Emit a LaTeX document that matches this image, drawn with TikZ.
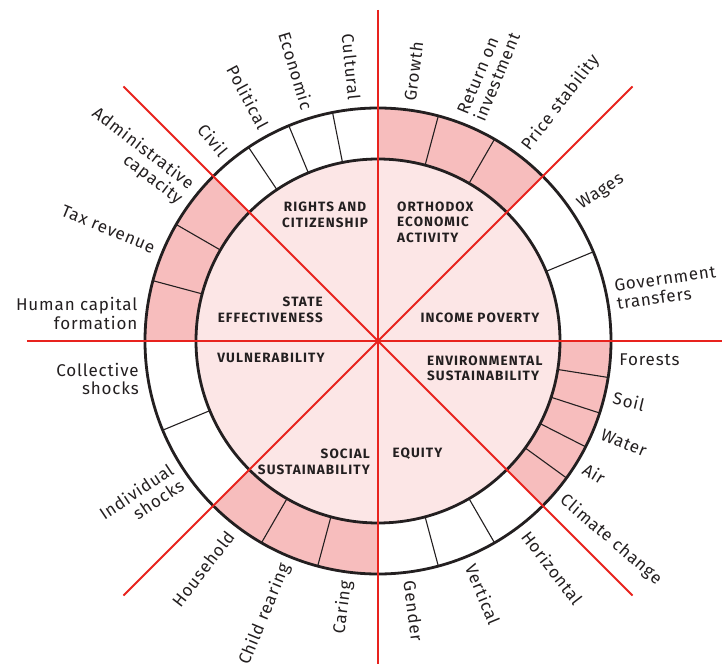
\documentclass[tikz,border=0pt]{standalone}
\usepackage{fontspec}
\setmainfont{Fira Sans}
\newfontfamily\bandfont[LetterSpace=5]{Fira Sans}
\newfontfamily\zonefont[LetterSpace=8]{Fira Sans}
\usepackage{tikz}
\usetikzlibrary{calc}
\definecolor{myred}{RGB}{232, 35, 30}
\definecolor{mypink}{RGB}{247, 189, 189}
\definecolor{mylightpink}{RGB}{252, 230, 230}
\definecolor{mydark}{RGB}{35, 31, 32}
\newcommand{\rin}{182}
\newcommand{\rout}{233}
\newcommand{\rtext}{242}
\tikzset{
  bandlabel/.style = {font=\bandfont\fontsize{17}{18.5}\selectfont, text=mydark, inner sep=0pt},
  zonelabel/.style = {font=\zonefont\bfseries\fontsize{13.5}{15.5}\selectfont, text=mydark, inner sep=0pt},
  divider/.style = {line width=1.1pt, mydark},
  ring/.style = {line width=2.8pt, mydark},
  redline/.style = {line width=1.8pt, myred}
}

\begin{document}
\begin{tikzpicture}[x=1pt, y=1pt]
\useasboundingbox (-378, -323) rectangle (344, 341);
% disc and shaded bands
\fill[mylightpink] (0, 0) circle (\rin);
\fill[mypink] (45:\rin) arc (45:90:\rin) -- (90:\rout) arc (90:45:\rout) -- cycle;
\fill[mypink] (135:\rin) arc (135:180:\rin) -- (180:\rout) arc (180:135:\rout) -- cycle;
\fill[mypink] (-45:\rin) arc (-45:0:\rin) -- (0:\rout) arc (0:-45:\rout) -- cycle;
\fill[mypink] (-135:\rin) arc (-135:-90:\rin) -- (-90:\rout) arc (-90:-135:\rout) -- cycle;
% band dividers
\draw[divider] (101.25:\rin) -- (101.25:\rout);
\draw[divider] (112.5:\rin) -- (112.5:\rout);
\draw[divider] (123.75:\rin) -- (123.75:\rout);
\draw[divider] (150:\rin) -- (150:\rout);
\draw[divider] (165:\rin) -- (165:\rout);
\draw[divider] (75:\rin) -- (75:\rout);
\draw[divider] (60:\rin) -- (60:\rout);
\draw[divider] (22.5:\rin) -- (22.5:\rout);
\draw[divider] (-9:\rin) -- (-9:\rout);
\draw[divider] (-18:\rin) -- (-18:\rout);
\draw[divider] (-27:\rin) -- (-27:\rout);
\draw[divider] (-36:\rin) -- (-36:\rout);
\draw[divider] (-60:\rin) -- (-60:\rout);
\draw[divider] (-75:\rin) -- (-75:\rout);
\draw[divider] (-105:\rin) -- (-105:\rout);
\draw[divider] (-120:\rin) -- (-120:\rout);
\draw[divider] (-157.5:\rin) -- (-157.5:\rout);
\draw[ring] (0, 0) circle (\rin);
\draw[ring] (0, 0) circle (\rout);
% red axes
\draw[redline] (0, 331) -- (0, -323);
\draw[redline] (-351, 0) -- (344, 0);
\draw[redline] (135:360) -- (-45:360);
\draw[redline] (45:360) -- (-135:360);
% zones
\node[zonelabel, align=center] (rights) at (-53, 126) {RIGHTS AND\\CITIZENSHIP};
\node[zonelabel, align=left, anchor=west] (orthodox) at (19, 119) {ORTHODOX\\ECONOMIC\\ACTIVITY};
\node[zonelabel, align=right, anchor=east] (state) at (-55, 31) {STATE\\EFFECTIVENESS};
\node[zonelabel] (income) at (102, 23) {INCOME POVERTY};
\node[zonelabel] (vulner) at (-107, -17) {VULNERABILITY};
\node[zonelabel, align=left, anchor=west] (environ) at (49, -27.5) {ENVIRONMENTAL\\SUSTAINABILITY};
\node[zonelabel, align=right, anchor=east] (social) at (-8, -121) {SOCIAL\\SUSTAINABILITY};
\node[zonelabel] (equity) at (39.5, -113) {EQUITY};
% band labels, outward
\node[bandlabel, anchor=west, rotate=82.5] (growth) at (82.5:\rtext) {Growth};
\node[bandlabel, anchor=west, rotate=67.5, align=left] (return) at (67.5:\rtext) {Return on\\investment};
\node[bandlabel, anchor=west, rotate=52.5] (price) at (52.5:\rtext) {Price stability};
\node[bandlabel, anchor=west, rotate=33.75] (wages) at (33.75:\rtext) {Wages};
\node[bandlabel, anchor=west, rotate=8, align=left] (transfers) at (11:\rtext) {Government\\transfers};
\node[bandlabel, anchor=west] (forests) at (-4.5:\rtext) {Forests};
\node[bandlabel, anchor=west, rotate=-13.5] (soil) at (-13.5:\rtext) {Soil};
\node[bandlabel, anchor=west, rotate=-22.5] (water) at (-22.5:\rtext) {Water};
\node[bandlabel, anchor=west, rotate=-31.5] (air) at (-31.5:\rtext) {Air};
\node[bandlabel, anchor=west, rotate=-40.5] (climate) at (-40.5:\rtext) {Climate change};
\node[bandlabel, anchor=west, rotate=-52.5] (horizontal) at (-52.5:\rtext) {Horizontal};
\node[bandlabel, anchor=west, rotate=-67.5] (vertical) at (-67.5:\rtext) {Vertical};
\node[bandlabel, anchor=west, rotate=-82.5] (gender) at (-82.5:\rtext) {Gender};
% band labels, inward
\node[bandlabel, anchor=east, rotate=82.5] (caring) at (-97.5:\rtext) {Caring};
\node[bandlabel, anchor=east, rotate=67.5] (childrearing) at (-112.5:\rtext) {Child rearing};
\node[bandlabel, anchor=east, rotate=52.5] (household) at (-127.5:\rtext) {Household};
\node[bandlabel, anchor=east, rotate=33.75, align=right] (individual) at (-146.25:\rtext) {Individual\\shocks};
\node[bandlabel, anchor=east, align=right] (collective) at (-171:\rtext) {Collective\\shocks};
\node[bandlabel, anchor=east, align=right] (human) at (173.5:\rtext) {Human capital\\formation};
\node[bandlabel, anchor=east, rotate=-22.5] (tax) at (157.5:\rtext) {Tax revenue};
\node[bandlabel, anchor=east, rotate=-37.5, align=right] (admin) at (142.5:\rtext) {Administrative\\capacity};
\node[bandlabel, anchor=east, rotate=-50.6] (civil) at (129.4:\rtext) {Civil};
\node[bandlabel, anchor=east, rotate=-61.9] (political) at (118.1:\rtext) {Political};
\node[bandlabel, anchor=east, rotate=-73.1] (economic) at (106.9:\rtext) {Economic};
\node[bandlabel, anchor=east, rotate=-84.4] (cultural) at (95.6:\rtext) {Cultural};
\end{tikzpicture}
\end{document}
